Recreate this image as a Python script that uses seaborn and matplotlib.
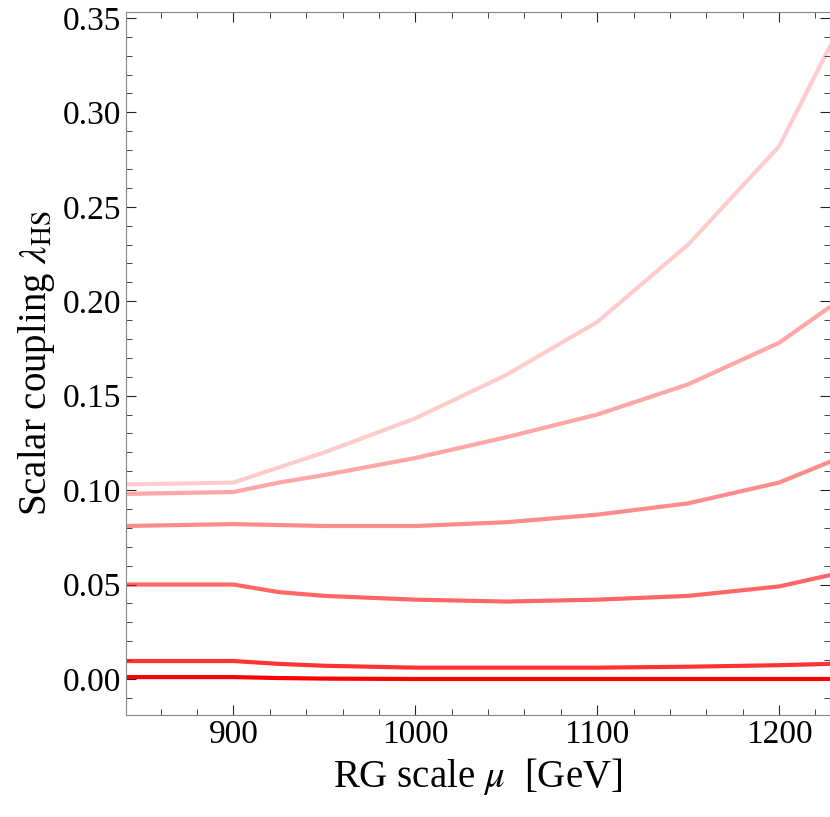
import numpy as np
import pandas as pd
import matplotlib.pyplot as plt
import seaborn as sns

sns.set_style("ticks")
plt.rcParams["font.family"] = "Liberation Serif"
plt.rcParams["mathtext.fontset"] = "stix"
plt.rcParams["text.color"] = "black"
plt.rcParams["axes.labelcolor"] = "black"
plt.rcParams["xtick.labelcolor"] = "black"
plt.rcParams["ytick.labelcolor"] = "black"

mu = [841, 900, 925, 950, 1000, 1050, 1100, 1150, 1200, 1228]
curves = {
    "c1": [0.103, 0.104, 0.112, 0.120, 0.138, 0.161, 0.189, 0.230, 0.282, 0.335],
    "c2": [0.098, 0.099, 0.104, 0.108, 0.117, 0.128, 0.140, 0.156, 0.178, 0.197],
    "c3": [0.081, 0.082, 0.0815, 0.081, 0.081, 0.083, 0.087, 0.093, 0.104, 0.115],
    "c4": [0.050, 0.050, 0.046, 0.044, 0.042, 0.041, 0.042, 0.044, 0.049, 0.055],
    "c5": [0.0095, 0.0095, 0.008, 0.007, 0.006, 0.006, 0.006, 0.0065, 0.0073, 0.008],
    "c6": [0.001, 0.001, 0.0005, 0.0002, 0.0, 0.0, 0.0, 0.0, 0.0, 0.0],
}
alphas = [0.2, 0.35, 0.45, 0.6, 0.8, 1.0]

df = pd.DataFrame(
    [(m, v, k) for k, vals in curves.items() for m, v in zip(mu, vals)],
    columns=["mu", "lam", "curve"],
)

fig, ax = plt.subplots(figsize=(8.3, 8.17), dpi=100)
for (name, g), a in zip(df.groupby("curve", sort=False), alphas):
    sns.lineplot(data=g, x="mu", y="lam", ax=ax, color="red", alpha=a, lw=3)

ax.set_xlim(841, 1228)
ax.set_ylim(-0.019, 0.353)
ax.set_xticks([900, 1000, 1100, 1200])
ax.set_yticks(np.arange(0, 0.351, 0.05))
ax.set_yticklabels([f"{t:.2f}" for t in np.arange(0, 0.351, 0.05)])
ax.minorticks_on()
ax.tick_params(direction="in", which="both", top=True, right=True, labelsize=24)
ax.tick_params(which="major", length=7)
ax.tick_params(which="minor", length=4)
ax.set_xlabel(r"RG scale $\mu$  [GeV]", fontsize=28)
ax.set_ylabel(r"Scalar coupling $\lambda_{\mathrm{HS}}$", fontsize=28)
for s in ax.spines.values():
    s.set_color("#888888")
plt.subplots_adjust(left=0.152, right=1.0, top=0.985, bottom=0.125)
fig.savefig("out.png")
